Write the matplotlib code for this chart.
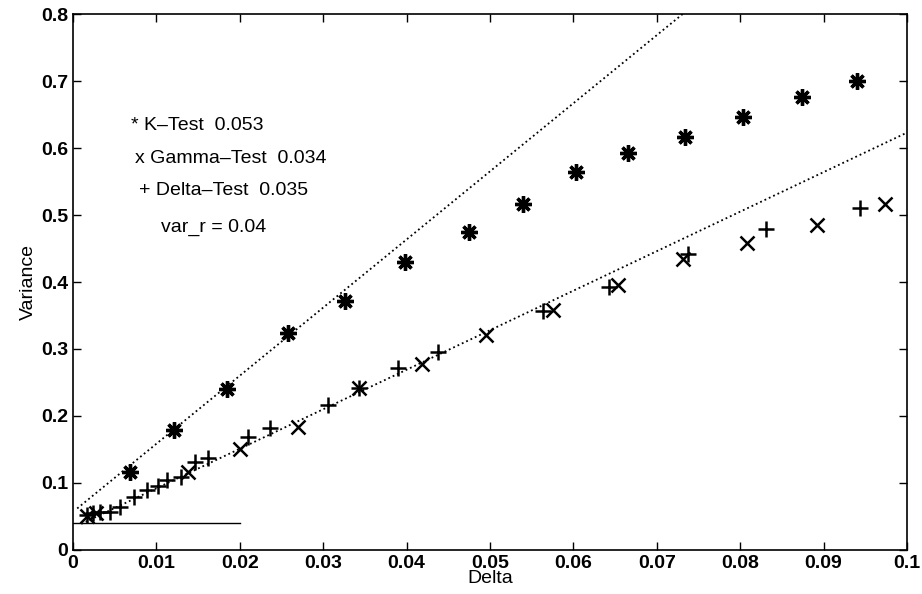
import matplotlib.pyplot as plt
import numpy as np

plt.rcParams['font.family'] = ['Liberation Sans', 'DejaVu Sans']

# K-Test (asterisks)
k_delta = [0.0068, 0.0121, 0.0185, 0.0258, 0.0326, 0.0398, 0.0475, 0.0540, 0.0603, 0.0665, 0.0734, 0.0803, 0.0874, 0.0940]
k_var = [0.116, 0.179, 0.240, 0.324, 0.372, 0.430, 0.475, 0.516, 0.564, 0.593, 0.616, 0.646, 0.676, 0.700]

# Gamma-Test (x)
g_delta = [0.0017, 0.0028, 0.0138, 0.0200, 0.0270, 0.0343, 0.0418, 0.0495, 0.0576, 0.0653, 0.0731, 0.0808, 0.0892, 0.0974]
g_var = [0.050, 0.055, 0.116, 0.151, 0.184, 0.242, 0.278, 0.321, 0.358, 0.396, 0.434, 0.458, 0.485, 0.516]

# Delta-Test (+)
d_delta = [0.0017, 0.0024, 0.0032, 0.0044, 0.0056, 0.0073, 0.0089, 0.0102, 0.0113, 0.0130, 0.0146, 0.0162,
           0.0210, 0.0236, 0.0306, 0.0343, 0.0390, 0.0438, 0.0564, 0.0643, 0.0737, 0.0831, 0.0944]
d_var = [0.052, 0.055, 0.057, 0.057, 0.064, 0.079, 0.090, 0.096, 0.104, 0.109, 0.131, 0.137,
         0.169, 0.182, 0.216, 0.242, 0.271, 0.296, 0.357, 0.393, 0.442, 0.479, 0.510]

# dotted fit lines (end points)
k_fit_x = [0.0005, 0.0735]
k_fit_y = [0.062, 0.804]
gd_fit_x = [0.001, 0.1]
gd_fit_y = [0.039, 0.623]

# var_r reference line
var_r = 0.04
var_r_x = [0.0, 0.02]

legend_lines = ["* K\u2013Test  0.053", "x Gamma\u2013Test  0.034", "+ Delta\u2013Test  0.035", "var_r = 0.04"]

fig = plt.figure(figsize=(9.22, 5.94), dpi=100)
ax = fig.add_axes([0.0792, 0.0741, 0.9045, 0.9023])

ax.plot(k_fit_x, k_fit_y, ':', color='black', lw=1.3)
ax.plot(gd_fit_x, gd_fit_y, ':', color='black', lw=1.3)
ax.plot(var_r_x, [var_r, var_r], '-', color='black', lw=1)

ax.plot(k_delta, k_var, ls='none', marker=(8, 2, 0), ms=12, mew=2.4, color='black')
ax.plot(g_delta, g_var, ls='none', marker='x', ms=10, mew=1.8, color='black')
ax.plot(d_delta, d_var, ls='none', marker='+', ms=11, mew=1.8, color='black')

ax.text(0.0070, 0.633, legend_lines[0], fontsize=14, va='center')
ax.text(0.0074, 0.585, legend_lines[1], fontsize=14, va='center')
ax.text(0.0079, 0.537, legend_lines[2], fontsize=14, va='center')
ax.text(0.0105, 0.481, legend_lines[3], fontsize=14, va='center')

ax.set_xlim(0, 0.1)
ax.set_ylim(0, 0.8)
ax.set_xticks(np.arange(0, 0.1001, 0.01))
ax.set_xticklabels(["0", "0.01", "0.02", "0.03", "0.04", "0.05", "0.06", "0.07", "0.08", "0.09", "0.1"])
ax.set_yticks(np.arange(0, 0.8001, 0.1))
ax.set_yticklabels(["0", "0.1", "0.2", "0.3", "0.4", "0.5", "0.6", "0.7", "0.8"])
ax.tick_params(direction='in', top=True, right=True, length=6, width=1, labelsize=14)
for lab in ax.get_xticklabels() + ax.get_yticklabels():
    lab.set_fontweight('bold')
ax.set_xlabel("Delta", fontsize=14, labelpad=-1)
ax.set_ylabel("Variance", fontsize=14, labelpad=3)
for s in ax.spines.values():
    s.set_linewidth(1.2)

fig.savefig("out.png", dpi=100)
